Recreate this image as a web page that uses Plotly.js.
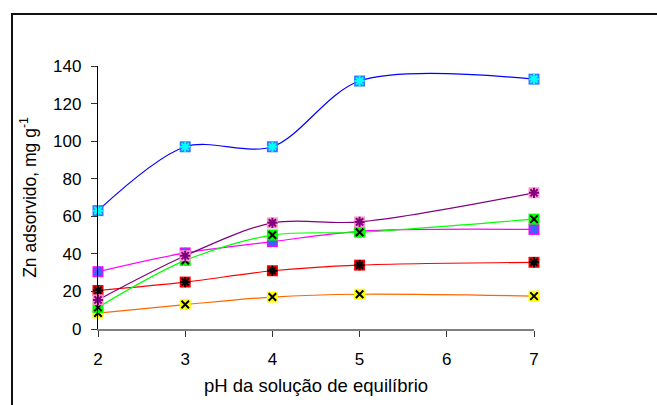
<!DOCTYPE html>
<html>
<head>
<meta charset="utf-8">
<script src="https://cdn.plot.ly/plotly-3.0.1.min.js"></script>
<style>
  html, body { margin: 0; padding: 0; background: #fff; }
  #wrap { position: relative; width: 657px; height: 405px; overflow: hidden; }
  #frame { position: absolute; left: 11px; top: 13px; width: 700px; height: 500px;
           border: 2px solid #111; pointer-events: none; }
  #chart { position: absolute; left: 0; top: 0; width: 657px; height: 405px; }
</style>
</head>
<body>
<div id="wrap">
  <div id="chart"></div>
  <div id="frame"></div>
</div>
<script>
// pH values
const ph = [2, 3, 4, 5, 7];

// Zn adsorbed (mg g-1) per series
const serieBlue    = [63, 97, 97, 132, 133];
const serieMagenta = [30.5, 40.5, 46.5, 52, 53];
const serieRed     = [20.5, 25, 31, 34, 35.5];
const serieYellow  = [8.5, 13, 17, 18.5, 17.5];
const serieGreen   = [11.5, 36.5, 50, 51.5, 58.5];
const seriePink    = [15.5, 39, 56.5, 57, 72.5];

const yTicks = [0, 20, 40, 60, 80, 100, 120, 140];
const xTicks = [2, 3, 4, 5, 6, 7];

const series = [
  {y: serieBlue,    line: '#0000FF', fill: '#3377FF', over: '#00FFFF', sym: 'asterisk-open'},
  {y: serieMagenta, line: '#FF00FF', fill: '#FF00FF', over: '#3366FF', sym: 'asterisk-open'},
  {y: serieRed,     line: '#FF0000', fill: '#FF0000', over: '#000000', sym: 'asterisk-open'},
  {y: serieYellow,  line: '#FF6600', fill: '#FFFF00', over: '#000000', sym: 'x-thin-open'},
  {y: serieGreen,   line: '#00FF00', fill: '#00FF00', over: '#000000', sym: 'x-thin-open'},
  {y: seriePink,    line: '#800080', fill: '#FF99CC', over: '#800080', sym: 'asterisk-open'}
];

const traces = [];
series.forEach(s => {
  traces.push({x: ph, y: s.y, type: 'scatter', mode: 'lines',
    line: {color: s.line, width: 1.2, shape: 'spline', smoothing: 0.9},
    hoverinfo: 'skip', showlegend: false, cliponaxis: false});
});
series.forEach(s => {
  traces.push({x: ph, y: s.y, type: 'scatter', mode: 'markers',
    marker: {symbol: 'square', size: 11, color: s.fill, line: {width: 0}},
    showlegend: false, cliponaxis: false});
  traces.push({x: ph, y: s.y, type: 'scatter', mode: 'markers',
    marker: {symbol: s.sym, size: s.sym === 'x-thin-open' ? 7.5 : 8.5, color: s.over,
             line: {color: s.over, width: 2}},
    showlegend: false, cliponaxis: false});
});

const font = {family: 'Liberation Sans, Arial, sans-serif', size: 17, color: '#000'};
const xTitleFont = {family: 'Liberation Sans, Arial, sans-serif', size: 18.5, color: '#000'};
const yTitleFont = {family: 'Liberation Sans, Arial, sans-serif', size: 17.5, color: '#000'};

const layout = {
  width: 657, height: 405,
  margin: {l: 98, r: 123, t: 66, b: 76},
  paper_bgcolor: 'rgba(0,0,0,0)',
  plot_bgcolor: 'rgba(0,0,0,0)',
  font: font,
  showlegend: false,
  xaxis: {
    range: [2, 7], tickvals: xTicks, ticktext: xTicks.map(String),
    showgrid: false, zeroline: false,
    showline: true, linecolor: '#808080', linewidth: 2,
    ticks: 'outside', ticklen: 6, tickcolor: '#333', tickwidth: 1,
    ticklabelstandoff: 8,
    tickfont: font,
    title: {text: 'pH da solução de equilíbrio', font: xTitleFont, standoff: 11}
  },
  yaxis: {
    range: [0, 140], tickvals: yTicks, ticktext: yTicks.map(String),
    showgrid: false, zeroline: false,
    showline: true, linecolor: '#000', linewidth: 1.2,
    ticks: 'outside', ticklen: 6, tickcolor: '#333', tickwidth: 1,
    ticklabelstandoff: 6,
    tickfont: font,
    title: {text: 'Zn adsorvido, mg g<sup>-1</sup>', font: yTitleFont, standoff: 12}
  }
};

Plotly.newPlot('chart', traces, layout, {displayModeBar: false, staticPlot: true});
</script>
</body>
</html>
